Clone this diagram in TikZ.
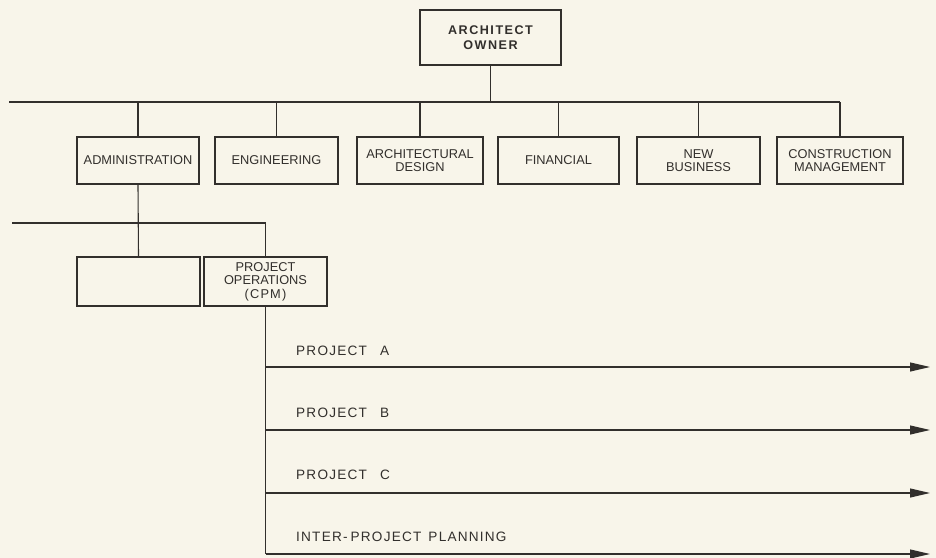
\documentclass[tikz,border=0pt]{standalone}
\usepackage{fontspec}
\setmainfont{Liberation Sans}
\newfontfamily\spacedfont[LetterSpace=9]{Liberation Sans}
\newfontfamily\topfont[LetterSpace=12]{Liberation Sans}
\usetikzlibrary{arrows.meta}
\definecolor{paper}{RGB}{248,245,234}
\definecolor{ink}{RGB}{50,47,44}
\tikzset{
  orgbox/.style={draw=ink, line width=1.1bp, text=ink, align=center, inner sep=0pt,
    minimum height=47bp, font=\fontsize{12.8bp}{13.5bp}\selectfont},
  link/.style={draw=ink, line width=1.1bp},
  projarrow/.style={draw=ink, line width=1.1bp, -{Triangle[length=20bp,width=9bp]}},
  projlabel/.style={anchor=west, inner sep=0pt, text=ink, font=\spacedfont\fontsize{13.6bp}{15bp}\selectfont}
}
\begin{document}
\begin{tikzpicture}[x=1bp,y=-1bp]
\fill[paper] (0,0) rectangle (936,558);
\useasboundingbox (0,0) rectangle (936,558);

\node[orgbox, minimum width=141bp, minimum height=55bp, font=\topfont\bfseries\fontsize{12.6bp}{15bp}\selectfont] (top) at (490.5,37.5) {ARCHITECT\\OWNER};

\node[orgbox, minimum width=122bp] (adm)  at (138,160.5) {ADMINISTRATION};
\node[orgbox, minimum width=123bp] (eng)  at (276.5,160.5) {ENGINEERING};
\node[orgbox, minimum width=126bp] (arch) at (420,160.5) {ARCHITECTURAL\\DESIGN};
\node[orgbox, minimum width=121bp] (fin)  at (558.5,160.5) {FINANCIAL};
\node[orgbox, minimum width=123bp] (newb) at (698.5,160.5) {NEW\\BUSINESS};
\node[orgbox, minimum width=126bp] (cons) at (840,160.5) {CONSTRUCTION\\MANAGEMENT};

\node[orgbox, minimum width=123bp, minimum height=49bp] (empty) at (138.5,281.5) {};
\node[orgbox, minimum width=123bp, minimum height=49bp] (po) at (265.5,281.5) {PROJECT\\OPERATIONS\\{\spacedfont (CPM)}};

\coordinate (busL) at (9,102);
\coordinate (bus2L) at (12,223);

\draw[link] (top.south) -- (top.south |- busL);
\draw[link] (busL) -- (busL -| cons.north);
\foreach \b in {adm,eng,arch,fin,newb,cons}
  \draw[link] (\b.north) -- (\b.north |- busL);

\draw[link] (adm.south) -- (empty.north);
\draw[link] (bus2L) -- (bus2L -| po.north) -- (po.north);

\coordinate (pa) at (930,367);
\coordinate (pb) at (930,430);
\coordinate (pc) at (930,493);
\coordinate (pd) at (930,554);

\draw[link] (po.south) -- (po.south |- pd);
\foreach \p in {pa,pb,pc,pd}
  \draw[projarrow] (po.south |- \p) -- (\p);

\node[projlabel] (la) at (296,351) {PROJECT\hspace{13bp}A};
\node[projlabel] (lb) at (296,413) {PROJECT\hspace{13bp}B};
\node[projlabel] (lc) at (296,475) {PROJECT\hspace{13bp}C};
\node[projlabel] (ld) at (296,537) {INTER-\hspace{3bp}PROJECT\hspace{7bp}PLANNING};
\end{tikzpicture}
\end{document}
